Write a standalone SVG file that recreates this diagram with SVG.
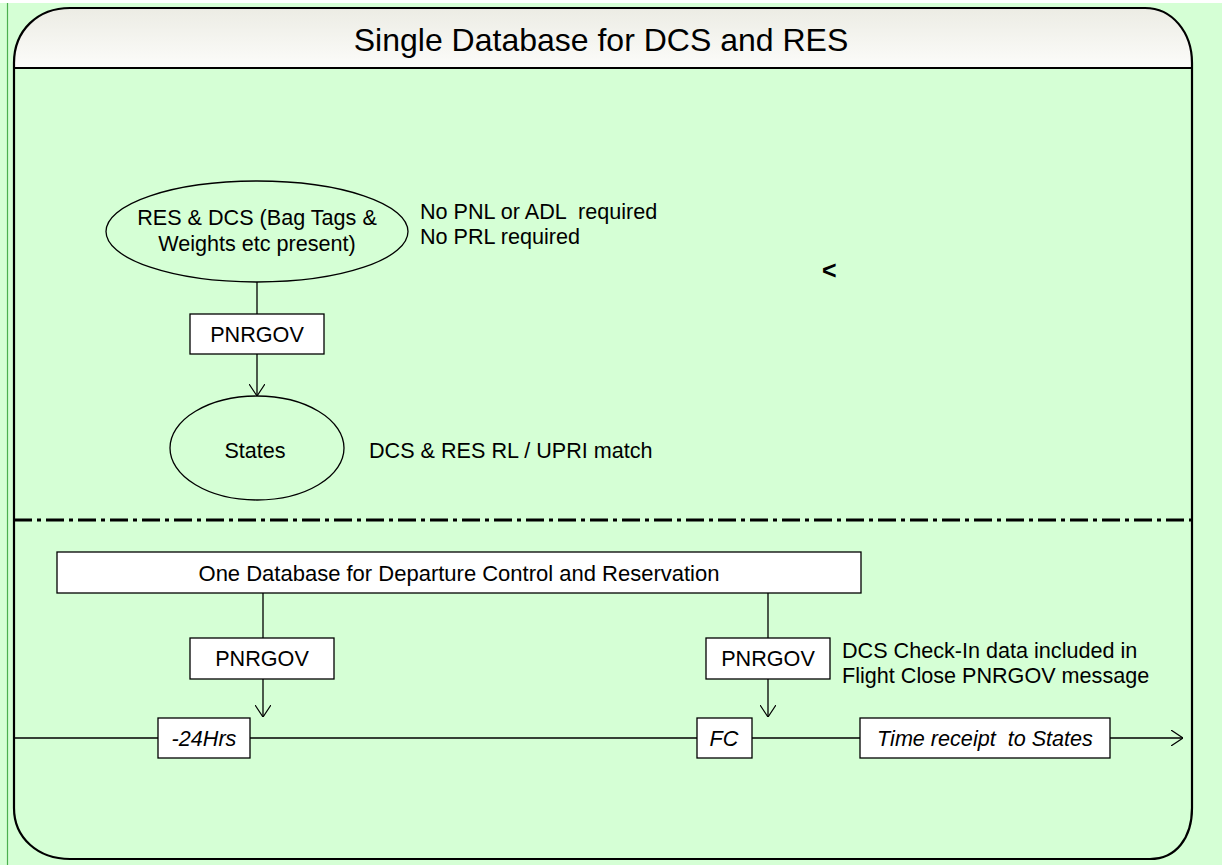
<svg xmlns="http://www.w3.org/2000/svg" width="1222" height="865" viewBox="0 0 1222 865">
  <defs>
    <linearGradient id="hdr" x1="0" y1="0" x2="0" y2="1">
      <stop offset="0" stop-color="#ECECE4"/>
      <stop offset="1" stop-color="#FCFCFA"/>
    </linearGradient>
    <marker id="arr" viewBox="0 0 12 16" refX="12" refY="8" markerWidth="12" markerHeight="16" markerUnits="userSpaceOnUse" orient="auto">
      <path d="M0,0 L12,8 L0,16" fill="none" stroke="#000" stroke-width="1.2"/>
    </marker>
    <style>
      .t { font-family: "Liberation Sans", Arial, sans-serif; font-size: 21.6px; fill: #000; }
      .ti { font-family: "Liberation Sans", Arial, sans-serif; font-size: 21.6px; font-style: italic; fill: #000; }
      .box { fill: #FFFFFF; stroke: #000; stroke-width: 1.3; }
      .ell { fill: none; stroke: #000; stroke-width: 1.3; }
      .ln { fill: none; stroke: #000; stroke-width: 1.3; }
    </style>
  </defs>

  <rect x="0" y="0" width="1222" height="865" fill="#D5FFD5"/>
  <rect x="0" y="0" width="1222" height="3" fill="#FFFFFF"/>
  <line x1="7.5" y1="3" x2="7.5" y2="865" stroke="#4CAF50" stroke-width="1.2"/>

  <g id="frame">
    <path d="M14,68 L14,63 C14,30 38,8 70,8 L1145,8 C1172,8 1192,32 1192,63 L1192,68 Z" fill="url(#hdr)" stroke="none"/>
    <path d="M14,68 L14,63 C14,30 38,8 70,8 L1145,8 C1172,8 1192,32 1192,63 L1192,808 C1192,838 1176,859 1150,859 L70,859 C38,859 14,838 14,808 Z" fill="none" stroke="#000" stroke-width="2.2"/>
    <line x1="14" y1="68" x2="1192" y2="68" stroke="#000" stroke-width="2"/>
    <text x="601" y="51" text-anchor="middle" style="font-family:'Liberation Sans',Arial,sans-serif;font-size:32px;fill:#000">Single Database for DCS and RES</text>
    <line x1="14" y1="520" x2="1192" y2="520" stroke="#000" stroke-width="3" stroke-dasharray="18 5 4 5"/>
  </g>

  <g id="connectors">
    <line class="ln" x1="257" y1="282" x2="257" y2="314"/>
    <line class="ln" x1="257" y1="354" x2="257" y2="396" marker-end="url(#arr)"/>
    <line class="ln" x1="263" y1="593" x2="263" y2="638"/>
    <line class="ln" x1="263" y1="679" x2="263" y2="717" marker-end="url(#arr)"/>
    <line class="ln" x1="768" y1="593" x2="768" y2="638"/>
    <line class="ln" x1="768" y1="679" x2="768" y2="717" marker-end="url(#arr)"/>
    <line class="ln" x1="14" y1="738" x2="1183" y2="738" marker-end="url(#arr)"/>
  </g>

  <g id="res-dcs">
    <ellipse class="ell" cx="257" cy="231.5" rx="151" ry="50.5"/>
    <text class="t" x="257" y="225" text-anchor="middle">RES &amp; DCS (Bag Tags &amp;</text>
    <text class="t" x="257" y="251" text-anchor="middle">Weights etc present)</text>
  </g>
  <g id="note-top">
    <text class="t" x="420" y="219" xml:space="preserve">No PNL or ADL  required</text>
    <text class="t" x="420" y="244">No PRL required</text>
  </g>
  <g id="chevron">
    <text x="822" y="279" style="font-family:'Liberation Sans',Arial,sans-serif;font-size:25px;font-weight:bold;fill:#000">&lt;</text>
  </g>
  <g id="pnrgov-top">
    <rect class="box" x="190" y="314" width="134" height="40"/>
    <text class="t" x="257" y="342" text-anchor="middle">PNRGOV</text>
  </g>
  <g id="states">
    <ellipse class="ell" cx="257" cy="448" rx="87" ry="52"/>
    <text class="t" x="255" y="458" text-anchor="middle">States</text>
  </g>
  <g id="note-states">
    <text class="t" x="369" y="458">DCS &amp; RES RL / UPRI match</text>
  </g>

  <g id="one-db">
    <rect class="box" x="57" y="552" width="804" height="41"/>
    <text x="459" y="581" text-anchor="middle" style="font-family:'Liberation Sans',Arial,sans-serif;font-size:22px;fill:#000">One Database for Departure Control and Reservation</text>
  </g>
  <g id="pnrgov-left">
    <rect class="box" x="190" y="638" width="144" height="41"/>
    <text class="t" x="262" y="666" text-anchor="middle">PNRGOV</text>
  </g>
  <g id="pnrgov-right">
    <rect class="box" x="706" y="638" width="124" height="41"/>
    <text class="t" x="768" y="666" text-anchor="middle">PNRGOV</text>
  </g>
  <g id="note-fc">
    <text class="t" x="842" y="658">DCS Check-In data included in</text>
    <text class="t" x="842" y="683">Flight Close PNRGOV message</text>
  </g>
  <g id="t-24">
    <rect class="box" x="158" y="718" width="92" height="40"/>
    <text class="ti" x="204" y="746" text-anchor="middle">-24Hrs</text>
  </g>
  <g id="t-fc">
    <rect class="box" x="697" y="718" width="55" height="40"/>
    <text class="ti" x="724" y="746" text-anchor="middle">FC</text>
  </g>
  <g id="t-receipt">
    <rect class="box" x="860" y="718" width="250" height="40"/>
    <text class="ti" x="985" y="746" text-anchor="middle" xml:space="preserve">Time receipt  to States</text>
  </g>
</svg>
